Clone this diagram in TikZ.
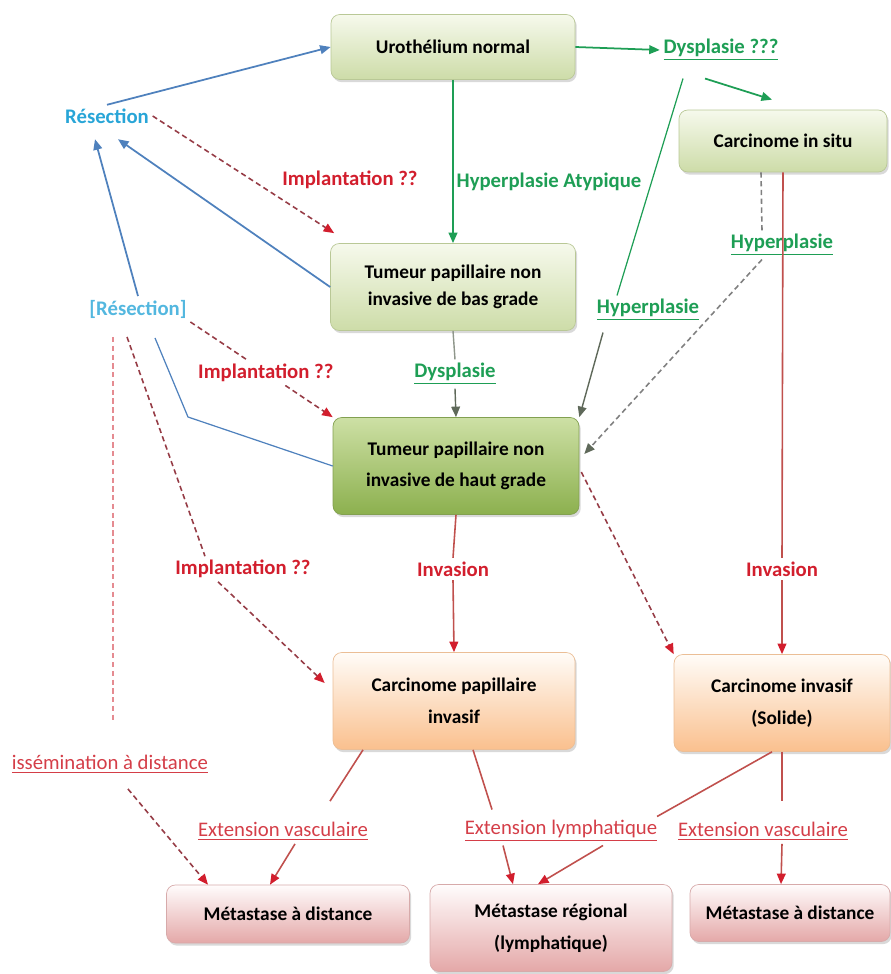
\documentclass[tikz,border=0pt]{standalone}
\usepackage{fontspec}
\setmainfont{Carlito}
\usepackage{tikz}
\usetikzlibrary{arrows.meta,shadows}

\definecolor{grtxt}{RGB}{30,158,85}
\definecolor{bltxt}{RGB}{40,165,215}
\definecolor{bllne}{RGB}{79,129,189}
\definecolor{rdtxt}{RGB}{210,30,45}
\definecolor{rdext}{RGB}{212,62,72}
\definecolor{rdlne}{RGB}{192,80,77}
\definecolor{rddsh}{RGB}{150,60,70}
\definecolor{gylne}{RGB}{95,105,90}

\begin{document}
\begin{tikzpicture}[x=0.02cm, y=-0.02cm,
        box/.style={rounded corners=5pt, line width=0.4pt, align=center,
            font=\fontsize{11}{13}\selectfont\bfseries,
            drop shadow={opacity=0.3, shadow xshift=1pt, shadow yshift=-1.5pt}},
        greenbox/.style={box, draw={rgb,255:red,185;green,200;blue,150},
            top color={rgb,255:red,246;green,249;blue,236}, bottom color={rgb,255:red,205;green,220;blue,168}},
        darkbox/.style={box, draw={rgb,255:red,130;green,160;blue,80},
            top color={rgb,255:red,205;green,224;blue,165}, bottom color={rgb,255:red,140;green,176;blue,78}},
        orangebox/.style={box, draw={rgb,255:red,235;green,190;blue,150},
            top color={rgb,255:red,255;green,252;blue,248}, bottom color={rgb,255:red,250;green,192;blue,142}},
        pinkbox/.style={box, draw={rgb,255:red,215;green,170;blue,170},
            top color={rgb,255:red,255;green,252;blue,252}, bottom color={rgb,255:red,228;green,168;blue,168}},
        lbl/.style={inner sep=2pt, font=\fontsize{11.8}{14}\selectfont\bfseries},
        grlbl/.style={lbl, text=grtxt},
        bllbl/.style={lbl, text=bltxt},
        rdlbl/.style={lbl, text=rdtxt},
        extlbl/.style={inner sep=2pt, font=\fontsize{11.8}{14}\selectfont, text=rdext},
        tip/.style={-{Triangle[length=6pt,width=5pt,color=#1]}},
        blu/.style={draw=bllne, line width=1pt, tip=bllne},
        grn/.style={draw=grtxt, line width=1pt, tip=grtxt},
        gry/.style={draw=gylne, line width=0.8pt, tip=gylne},
        gdash/.style={draw=gray, line width=0.9pt, dash pattern=on 3pt off 2pt, tip=gylne},
        rdash/.style={draw=rddsh, line width=0.9pt, dash pattern=on 3pt off 2pt, tip=rdtxt},
        rdln/.style={draw=rdlne, line width=0.9pt},
        rdar/.style={draw=rdlne, line width=0.9pt, tip=rdtxt}]

    \useasboundingbox (0,0) rectangle (891,974);

    \node[greenbox, minimum width=4.88cm, minimum height=1.3cm] (uro) at (453,47) {Urothélium normal};
    \node[greenbox, minimum width=4.16cm, minimum height=1.24cm] (cis) at (783,141) {Carcinome in situ};
    \node[greenbox, minimum width=4.9cm, minimum height=1.74cm] (bas) at (453,287)
        {Tumeur papillaire non\\[2pt]invasive de bas grade};
    \node[darkbox, minimum width=4.92cm, minimum height=1.94cm] (haut) at (456,466)
        {Tumeur papillaire non\\[5pt]invasive de haut grade};
    \node[orangebox, minimum width=4.84cm, minimum height=1.94cm] (pap) at (454,701)
        {Carcinome papillaire\\[5pt]invasif};
    \node[orangebox, minimum width=4.32cm, minimum height=1.94cm] (inv) at (782,703)
        {Carcinome invasif\\[5pt](Solide)};
    \node[pinkbox, minimum width=4.86cm, minimum height=1.16cm] (met1) at (288,914) {Métastase à distance};
    \node[pinkbox, minimum width=4.84cm, minimum height=1.74cm] (met2) at (551,928)
        {Métastase régional\\[5pt](lymphatique)};
    \node[pinkbox, minimum width=4.0cm, minimum height=1.14cm] (met3) at (790,913) {Métastase à distance};

    \node[grlbl] (dys) at (721,50) {\underline{Dysplasie ???}};
    \node[bllbl] (res) at (107,116) {Résection};
    \node[rdlbl] (imp1) at (350,180) {Implantation ??};
    \node[grlbl] (hypa) at (549,182) {Hyperplasie Atypique};
    \node[grlbl] (hyp1) at (782,245) {\underline{Hyperplasie}};
    \node[bllbl, text=bltxt!80] (res2) at (138,309) {[Résection]};
    \node[grlbl] (hyp2) at (648,310) {\underline{Hyperplasie}};
    \node[grlbl] (dys2) at (455,374) {\underline{Dysplasie}};
    \node[rdlbl] (imp3) at (243,569) {Implantation ??};
    \node[rdlbl] (inv1) at (453,569) {Invasion};
    \node[rdlbl] (inv2) at (782,569) {Invasion};
    \node[extlbl, anchor=west] (diss) at (8,764) {\underline{issémination à distance}};
    \node[extlbl] (ev1) at (283,831) {\underline{Extension vasculaire}};
    \node[extlbl] (evl) at (561,831) {\underline{Extension lymphatique}};
    \node[extlbl] (ev2) at (763,831) {\underline{Extension vasculaire}};

    \coordinate (hbend) at (188,417);
    \coordinate (dtop) at (113,722);

    \draw[blu] (res.north) -- (uro.west);
    \draw[blu] (bas.west) -- ([shift={(11,12)}]res.south);
    \draw[blu] (res2.north) -- ([shift={(-12,12)}]res.south);
    \draw[draw=bllne, line width=0.7pt] (haut.west) -- (hbend) -- ([shift={(17,16)}]res2.south);

    \draw[grn] (uro.east) -- (dys.west);
    \draw[grn] ([shift={(-16,14)}]dys.south) -- ([shift={(-11,-10)}]cis.north);
    \draw[draw=grtxt, line width=0.7pt] ([shift={(-38,14)}]dys.south) -- ([shift={(-31,0)}]hyp2.north);
    \draw[gry] ([shift={(-45,8)}]hyp2.south) -- (haut.north east);
    \draw[grn] (uro.south) -- (bas.north);
    \draw[draw=gylne!70, line width=0.8pt] (bas.south) -- (dys2.north);
    \draw[gry] (dys2.south) -- (haut.north);
    \draw[gdash, -] ([shift={(-22,0)}]cis.south) -- ([shift={(-20,0)}]hyp1.north);
    \draw[gdash] ([shift={(-20,0)}]hyp1.south) -- ([shift={(5,-12)}]haut.east);

    \draw[rdash] (res.east) -- ([shift={(4,-10)}]bas.north west);
    \draw[rdash] (res2.south east) -- node[rdlbl, fill=white, pos=0.53] (imp2) {Implantation ??} (haut.north west);
    \draw[rdash, -] ([shift={(-11,15)}]res2.south) -- ([shift={(-38,0)}]imp3.north);
    \draw[rdash] ([shift={(-25,0)}]imp3.south) -- ([shift={(-8,-18)}]pap.west);
    \draw[rdash, draw=rdext!60, line width=0.6pt, -] ([shift={(-25,15)}]res2.south) -- (dtop);
    \draw[rdash] ([shift={(18,12)}]diss.south) -- ([shift={(-80,0)}]met1.north);
    \draw[rdash] ([shift={(2,6)}]haut.east) -- (inv.north west);

    \draw[rdln] (haut.south) -- (inv1.north);
    \draw[rdar] (inv1.south) -- (pap.north);
    \draw[rdln] (cis.south) -- (inv2.north);
    \draw[rdar] (inv2.south) -- (inv.north);

    \draw[rdln] ([shift={(-91,0)}]pap.south) -- ([shift={(47,-17)}]ev1.north);
    \draw[rdar] ([shift={(12,0)}]ev1.south) -- ([shift={(-18,0)}]met1.north);
    \draw[rdln] ([shift={(19,0)}]pap.south) -- ([shift={(-69,-7)}]evl.north);
    \draw[rdar] ([shift={(-58,0)}]evl.south) -- ([shift={(-38,0)}]met2.north);
    \draw[rdln] ([shift={(-10,0)}]inv.south) -- ([shift={(-4,0)}]evl.north east);
    \draw[rdar] ([shift={(42,0)}]evl.south) -- ([shift={(-13,0)}]met2.north);
    \draw[rdln] (inv.south) -- ([shift={(19,-17)}]ev2.north);
    \draw[rdar] ([shift={(19,0)}]ev2.south) -- ([shift={(-9,0)}]met3.north);

\end{tikzpicture}
\end{document}
